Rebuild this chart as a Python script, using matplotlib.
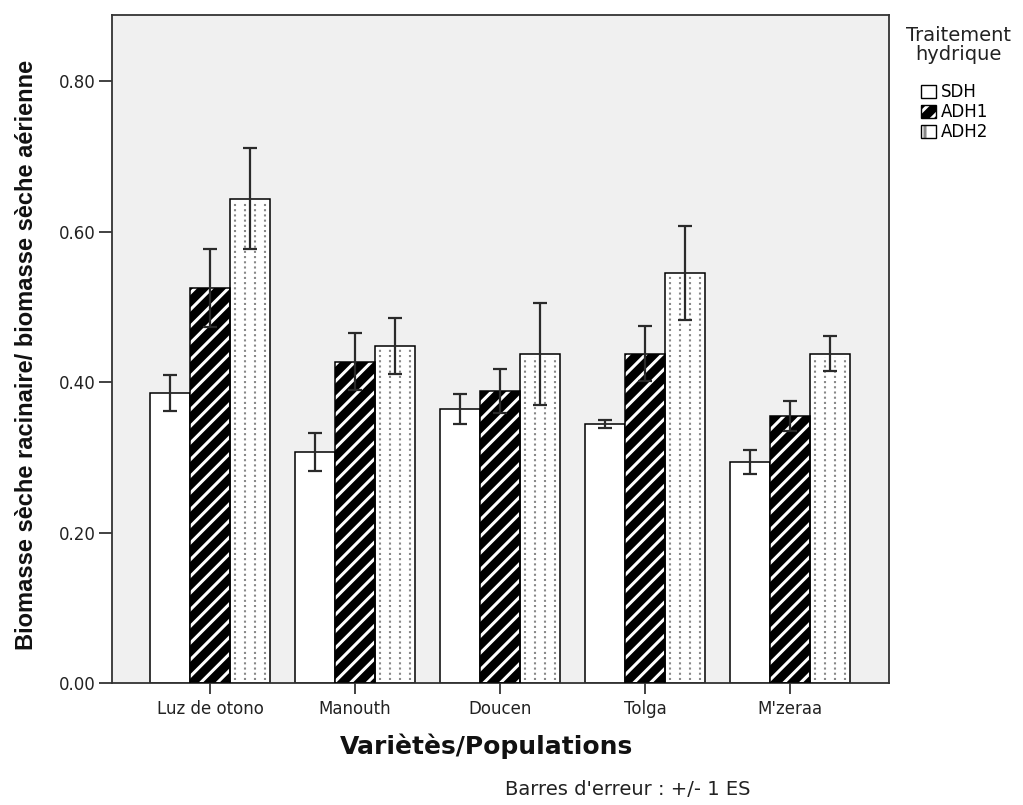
import numpy as np
import matplotlib
matplotlib.use("Agg")
import matplotlib.pyplot as plt
from matplotlib.patches import Patch
from matplotlib.ticker import FormatStrFormatter

plt.rcParams['font.family'] = ['DejaVu Sans']
plt.rcParams['hatch.linewidth'] = 2.2

# data
varietes = ["Luz de otono", "Manouth", "Doucen", "Tolga", "M'zeraa"]
traitements = ["SDH", "ADH1", "ADH2"]
sdh = [0.385, 0.307, 0.364, 0.344, 0.294]
adh1 = [0.525, 0.427, 0.388, 0.438, 0.355]
adh2 = [0.644, 0.448, 0.437, 0.545, 0.438]
se_sdh = [0.024, 0.025, 0.020, 0.005, 0.016]
se_adh1 = [0.052, 0.038, 0.029, 0.037, 0.020]
se_adh2 = [0.067, 0.037, 0.068, 0.063, 0.023]

W, H = 1023, 805
fig = plt.figure(figsize=(W / 100, H / 100), dpi=100)
ax = fig.add_axes([112/W, 122/H, 777/W, 668/H])
ax.set_facecolor('#f0f0f0')

x = np.arange(len(varietes))
w = 0.276
err_kw = dict(ecolor='#2a2a2a', elinewidth=1.6, capsize=5, capthick=1.6)

# SDH: plain white
ax.bar(x - w, sdh, w, color='white', edgecolor='black', linewidth=1.1,
       zorder=2)

# ADH1: black with white diagonal stripes
ax.bar(x, adh1, w, color='black', edgecolor='white', hatch='//',
       linewidth=0, zorder=2)
ax.bar(x, adh1, w, fill=False, edgecolor='black', linewidth=1.1, zorder=3)

# ADH2: white with dotted vertical lines
ax.bar(x + w, adh2, w, color='white', edgecolor='black', linewidth=1.1,
       zorder=2)
for xi, h in zip(x + w, adh2):
    for f in [-0.38, -0.13, 0.12, 0.37]:
        ax.plot([xi + f * w, xi + f * w], [0.004, h - 0.004], color='#888888',
                lw=1.5, ls=(0, (1, 1.5)), zorder=3)

ax.errorbar(x - w, sdh, yerr=se_sdh, fmt='none', zorder=4, **err_kw)
ax.errorbar(x, adh1, yerr=se_adh1, fmt='none', zorder=4, **err_kw)
ax.errorbar(x + w, adh2, yerr=se_adh2, fmt='none', zorder=4, **err_kw)

ax.set_xlim(-0.676, 4.683)
ax.set_ylim(0, 0.888)
ax.set_yticks([0.0, 0.2, 0.4, 0.6, 0.8])
ax.yaxis.set_major_formatter(FormatStrFormatter('%.2f'))
ax.set_xticks(x)
ax.set_xticklabels(varietes)
ax.tick_params(axis='both', direction='out', width=1.3, labelsize=12,
               color='#333333', labelcolor='#222222')
ax.tick_params(axis='x', length=8, pad=4)
ax.tick_params(axis='y', length=9.5, pad=2)
for s in ax.spines.values():
    s.set_linewidth(1.3)
    s.set_color('#333333')

fig.text(486/W, 1 - 746/H, "Variètès/Populations", ha='center', va='center',
         fontsize=18, fontweight='bold', color='#111111')
fig.text(27/W, 1 - 355/H, "Biomasse sèche racinaire/ biomasse sèche aérienne",
         rotation=90, ha='center', va='center', fontsize=17,
         fontweight='bold', family='Liberation Sans', color='#111111')

# legend
fig.text(958/W, 1 - 26/H, "Traitement\nhydrique", ha='center', va='top',
         fontsize=14, linespacing=1.0, color='#222222')
handles = [
    Patch(facecolor='white', edgecolor='black', linewidth=1.0),
    (Patch(facecolor='black', edgecolor='white', hatch='//', linewidth=0),
     Patch(fill=False, edgecolor='black', linewidth=1.0)),
    (Patch(facecolor='white', edgecolor='#888888', hatch='|', linewidth=0),
     Patch(fill=False, edgecolor='black', linewidth=1.0)),
]
fig.legend(handles, traitements, loc='upper left',
           bbox_to_anchor=(921/W, 1 - 83/H), frameon=False, fontsize=12,
           handlelength=0.9, handleheight=0.8, handletextpad=0.3,
           labelspacing=0.12, borderaxespad=0, borderpad=0)

fig.text(628/W, 1 - 789/H, "Barres d'erreur : +/- 1 ES", ha='center',
         va='center', fontsize=14, color='#222222')

fig.savefig("out.png", dpi=100, facecolor='white')
